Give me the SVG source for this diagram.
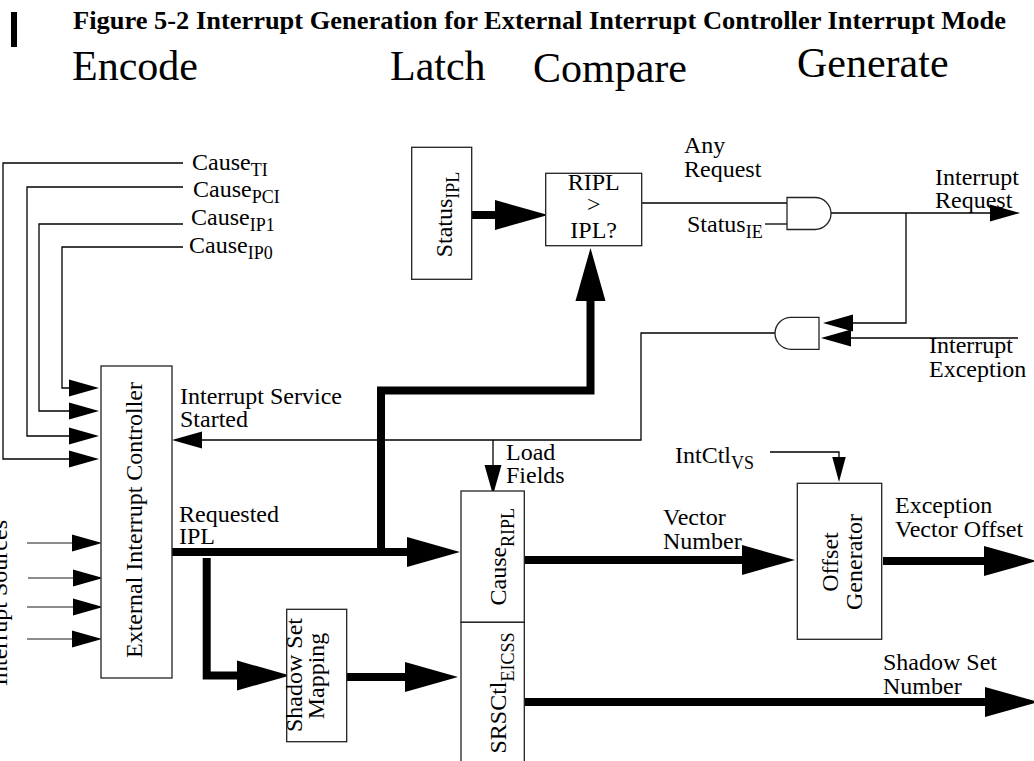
<svg xmlns="http://www.w3.org/2000/svg" width="1034" height="761" viewBox="0 0 1034 761">
  <style>
    text { font-family: "Liberation Serif", "Times New Roman", serif; font-size: 24px; fill: #000; }
    .title { font-weight: bold; font-size: 25px; }
    .stage { font-size: 42px; }
    .sub { font-size: 18px; }
    .box { fill: #fff; stroke: #222; stroke-width: 1.3; }
    .thin { fill: none; stroke: #000; stroke-width: 1.3; }
    .src { fill: none; stroke: #666; stroke-width: 1.3; }
    .thick { fill: none; stroke: #000; stroke-width: 8; stroke-linejoin: miter; stroke-linecap: butt; }
    .gate { fill: #fff; stroke: #222; stroke-width: 1.3; }
  </style>
  <defs>
    <!-- thin arrowhead: base sits at the line end, point extends forward -->
    <marker id="ah" markerUnits="userSpaceOnUse" markerWidth="31" markerHeight="18" refX="0" refY="8.5" orient="auto" overflow="visible">
      <path d="M0,0 L30,8.5 L0,17 Z" fill="#000"/>
    </marker>
    <marker id="ahs" markerUnits="userSpaceOnUse" markerWidth="26" markerHeight="14" refX="0" refY="6.75" orient="auto" overflow="visible">
      <path d="M0,0 L25,6.75 L0,13.5 Z" fill="#000"/>
    </marker>
    <!-- bus arrowhead -->
    <marker id="AH" markerUnits="userSpaceOnUse" markerWidth="54" markerHeight="31" refX="0" refY="15" orient="auto" overflow="visible">
      <path d="M0,0 L53,15 L0,30 Z" fill="#000"/>
    </marker>
  </defs>

  <!-- heading -->
  <rect x="11" y="12" width="6" height="35" fill="#000"/>
  <text class="title" x="73" y="29" textLength="933" lengthAdjust="spacingAndGlyphs">Figure 5-2 Interrupt Generation for External Interrupt Controller Interrupt Mode</text>
  <text class="stage" x="72" y="80">Encode</text>
  <text class="stage" x="390" y="80">Latch</text>
  <text class="stage" x="533" y="82">Compare</text>
  <text class="stage" x="797" y="77">Generate</text>

  <!-- connectors -->
  <g id="connectors">
    <!-- cause bits into the controller -->
    <path class="thin" d="M183,163 H3 V459 H69" marker-end="url(#ah)"/>
    <path class="thin" d="M183,187 H27 V436 H69" marker-end="url(#ah)"/>
    <path class="thin" d="M183,224 H39 V411 H69" marker-end="url(#ah)"/>
    <path class="thin" d="M183,247 H62 V388 H69" marker-end="url(#ah)"/>
    <!-- external sources -->
    <path class="src" d="M27,543 H72" marker-end="url(#ah)"/>
    <path class="src" d="M28,578 H73" marker-end="url(#ah)"/>
    <path class="src" d="M27,607 H73" marker-end="url(#ah)"/>
    <path class="src" d="M27,639 H72" marker-end="url(#ah)"/>
    <!-- service started feedback -->
    <path class="thin" d="M775,333 H641 V440 H202" marker-end="url(#ah)"/>
    <path class="thin" d="M493,440 V465" marker-end="url(#ah)"/>
    <!-- compare / enable -->
    <path class="thin" d="M642,203 H787"/>
    <path class="thin" d="M765,224 H787"/>
    <path class="thin" d="M831,213 H990" marker-end="url(#ah)"/>
    <path class="thin" d="M906,213 V323 H853" marker-end="url(#ah)"/>
    <path class="thin" d="M1018,338 H851" marker-end="url(#ah)"/>
    <path class="thin" d="M770,452 H839 V457" marker-end="url(#ahs)"/>
    <!-- buses -->
    <path class="thick" d="M172,552 H407" marker-end="url(#AH)"/>
    <path class="thick" d="M381,552 V390.5 H590.5 V301" marker-end="url(#AH)"/>
    <path class="thick" d="M206.7,558 V675.5 H237" marker-end="url(#AH)"/>
    <path class="thick" d="M472,215 H495" marker-end="url(#AH)"/>
    <path class="thick" d="M347,677 H405" marker-end="url(#AH)"/>
    <path class="thick" d="M524,560 H742" marker-end="url(#AH)"/>
    <path class="thick" d="M883,561 H984" marker-end="url(#AH)"/>
    <path class="thick" d="M524,702 H985" marker-end="url(#AH)"/>
  </g>

  <!-- signal labels -->
  <text x="192" y="170">Cause<tspan class="sub" dy="6">TI</tspan></text>
  <text x="193" y="197">Cause<tspan class="sub" dy="6">PCI</tspan></text>
  <text x="191" y="225">Cause<tspan class="sub" dy="6">IP1</tspan></text>
  <text x="189" y="253">Cause<tspan class="sub" dy="6">IP0</tspan></text>
  <text x="684" y="153">Any</text>
  <text x="684" y="177">Request</text>
  <text x="687" y="232">Status<tspan class="sub" dy="6">IE</tspan></text>
  <text x="935" y="185">Interrupt</text>
  <text x="935" y="208">Request</text>
  <text x="929" y="353">Interrupt</text>
  <text x="929" y="377">Exception</text>
  <text x="180" y="404">Interrupt Service</text>
  <text x="180" y="427">Started</text>
  <text x="506" y="460">Load</text>
  <text x="506" y="483">Fields</text>
  <text x="179" y="522">Requested</text>
  <text x="179" y="544">IPL</text>
  <text x="663" y="525">Vector</text>
  <text x="663" y="549">Number</text>
  <text x="675" y="463">IntCtl<tspan class="sub" dy="6">VS</tspan></text>
  <text x="895" y="513">Exception</text>
  <text x="895" y="537">Vector Offset</text>
  <text x="883" y="670">Shadow Set</text>
  <text x="883" y="694">Number</text>
  <text transform="translate(7,603) rotate(-90)" text-anchor="middle">Interrupt Sources</text>

  <!-- nodes -->
  <g id="status-ipl">
    <rect class="box" x="411.7" y="147.3" width="60" height="132"/>
    <text transform="translate(451.7,214.5) rotate(-90)" text-anchor="middle">Status<tspan class="sub" dy="7">IPL</tspan></text>
  </g>
  <g id="compare">
    <rect class="box" x="545.7" y="173.3" width="96" height="72.4"/>
    <text x="593.7" y="190" text-anchor="middle">RIPL</text>
    <text x="593.7" y="212" text-anchor="middle">&gt;</text>
    <text x="593.7" y="238" text-anchor="middle">IPL?</text>
  </g>
  <g id="and-request">
    <path class="gate" d="M787,197.5 H815 A16,16 0 0 1 815,229.5 H787 Z"/>
  </g>
  <g id="and-exception">
    <path class="gate" d="M819,317.3 H791 A16,16 0 0 0 791,349.3 H819 Z"/>
  </g>
  <g id="eic">
    <rect class="box" x="101" y="366" width="71" height="312"/>
    <text transform="translate(142,520) rotate(-90)" text-anchor="middle">External Interrupt Controller</text>
  </g>
  <g id="shadow-map">
    <rect class="box" x="286.7" y="609.3" width="60" height="132.4"/>
    <text transform="translate(301.7,675) rotate(-90)" text-anchor="middle">Shadow Set</text>
    <text transform="translate(323.5,676) rotate(-90)" text-anchor="middle">Mapping</text>
  </g>
  <g id="cause-ripl">
    <rect class="box" x="461" y="491" width="63.3" height="131.3"/>
    <text transform="translate(506,556.7) rotate(-90)" text-anchor="middle">Cause<tspan class="sub" dy="8">RIPL</tspan></text>
  </g>
  <g id="srsctl">
    <rect class="box" x="461" y="622.3" width="63.3" height="150"/>
    <text transform="translate(506,693) rotate(-90)" text-anchor="middle">SRSCtl<tspan class="sub" dy="8">EICSS</tspan></text>
  </g>
  <g id="offset-gen">
    <rect class="box" x="797.3" y="483.3" width="84.4" height="156"/>
    <text transform="translate(838,562) rotate(-90)" text-anchor="middle">Offset</text>
    <text transform="translate(862,562) rotate(-90)" text-anchor="middle">Generator</text>
  </g>
</svg>
